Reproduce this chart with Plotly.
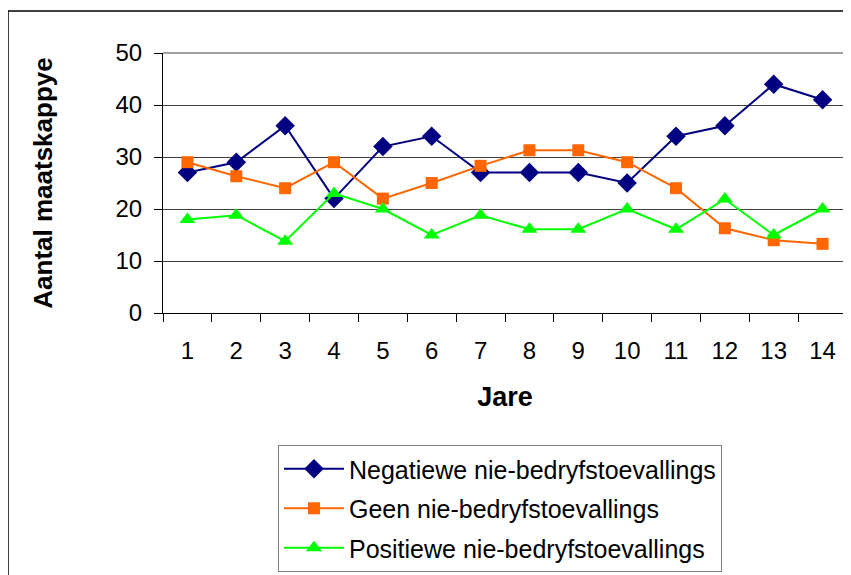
import plotly.graph_objects as go

jare = [str(i) for i in range(1, 15)]
negatiewe = [27, 29, 36, 22, 32, 34, 27, 27, 27, 25, 34, 36, 44, 41]
geen = [29, 26.3, 24, 29, 22, 25, 28.3, 31.3, 31.3, 29, 24, 16.3, 14, 13.3]
positiewe = [18, 18.8, 13.8, 23, 20, 15, 18.8, 16.1, 16.1, 20, 16.1, 21.9, 15, 20]
y_ticks = [0, 10, 20, 30, 40, 50]

FONT = "Liberation Sans, Arial, sans-serif"

fig = go.Figure()
fig.add_trace(go.Scatter(x=jare, y=negatiewe, mode="lines+markers",
                         name="Negatiewe nie-bedryfstoevallings", legendgroup="a",
                         line=dict(color="#000080", width=2),
                         marker=dict(symbol="diamond", size=15, color="#000080")))
fig.add_trace(go.Scatter(x=jare, y=geen, mode="lines+markers",
                         name="Geen nie-bedryfstoevallings", legendgroup="b",
                         line=dict(color="#FF6600", width=2),
                         marker=dict(symbol="square", size=12, color="#FF6600")))
fig.add_trace(go.Scatter(x=jare, y=positiewe, mode="lines+markers",
                         name="Positiewe nie-bedryfstoevallings", legendgroup="c",
                         line=dict(color="#00FF00", width=2),
                         marker=dict(symbol="triangle-up", size=14, color="#00FF00")))

fig.update_layout(
    width=843, height=567,
    margin=dict(l=155, r=4, t=45, b=262, autoexpand=False),
    paper_bgcolor="white", plot_bgcolor="white",
    font=dict(family=FONT, color="black", size=24),
    showlegend=True,
    legend=dict(x=0.1681, y=-0.5077, xanchor="left", yanchor="top",
                bordercolor="#808080", borderwidth=1, bgcolor="white",
                font=dict(size=25, family=FONT), tracegroupgap=4,
                itemwidth=60),
    xaxis=dict(type="category", range=[-0.5, len(jare) - 0.5],
               tickson="boundaries", ticks="outside", ticklen=8,
               tickcolor="black", showline=True, linecolor="black", linewidth=1,
               showgrid=False, tickfont=dict(size=24), automargin=False,
               ticklabelstandoff=16,
               title=dict(text="<b>Jare</b>", font=dict(size=27), standoff=24)),
    yaxis=dict(range=[0, 50], tickvals=y_ticks, ticks="outside", ticklen=8,
               tickcolor="black", showline=True, linecolor="black", linewidth=1,
               showgrid=True, gridcolor="#404040", gridwidth=1, zeroline=False,
               tickfont=dict(size=24), ticklabelstandoff=7, automargin=False,
               title=dict(text="<b>Aantal maatskappye</b>", font=dict(size=26), standoff=55)),
    shapes=[
        dict(type="line", xref="paper", yref="paper", x0=0, x1=1, y0=1, y1=1,
             line=dict(color="#808080", width=1.5)),
        dict(type="line", xref="paper", yref="paper", x0=1, x1=1, y0=0, y1=1,
             line=dict(color="#808080", width=1.5)),
        dict(type="line", xref="paper", yref="paper", x0=-0.2266, x1=-0.2266, y0=1.1615, y1=-1.1,
             line=dict(color="black", width=1.5)),
        dict(type="line", xref="paper", yref="paper", x0=-0.2266, x1=1.1, y0=1.1615, y1=1.1615,
             line=dict(color="black", width=1.5)),
    ],
)

fig.write_html("out.html")
